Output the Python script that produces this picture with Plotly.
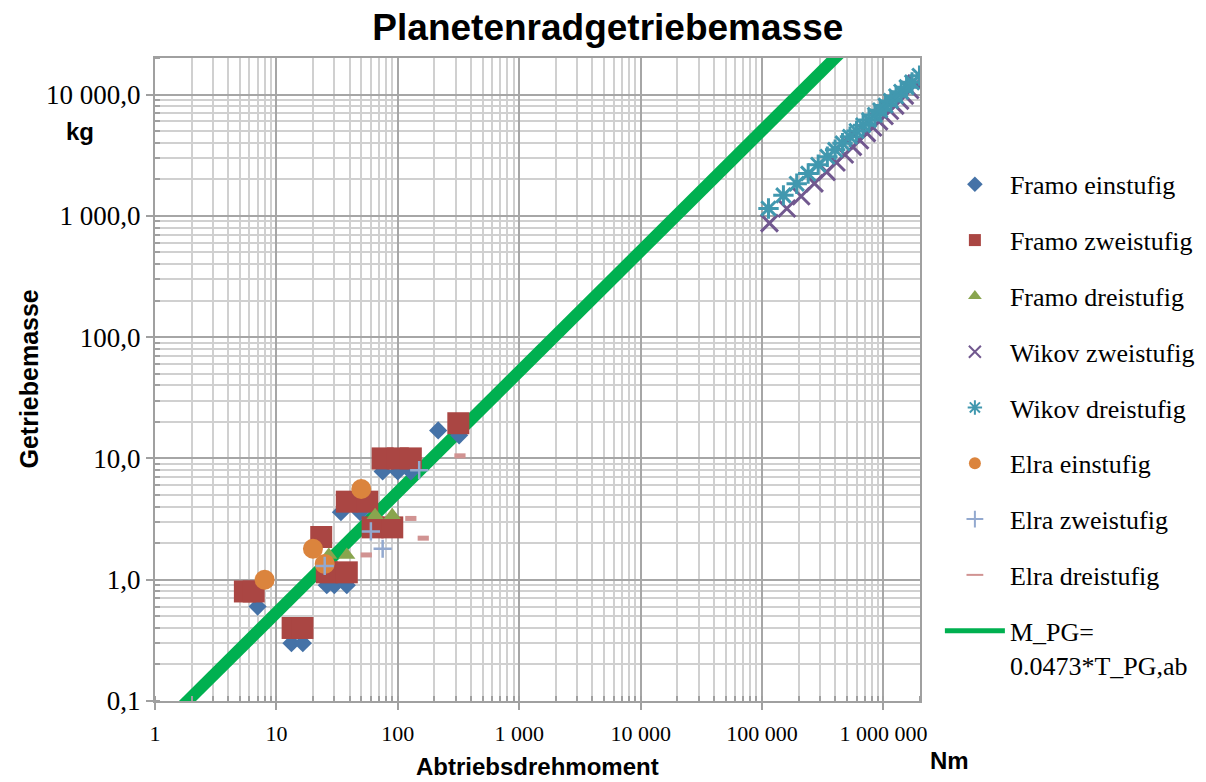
import plotly.graph_objects as go
import math

# ---------------- data ----------------
framo1_T = [7, 13.3, 16.5, 26, 30, 38, 34, 49, 75, 100, 128, 215, 320]
framo1_M = [0.6, 0.3, 0.3, 0.9, 0.9, 0.9, 3.6, 3.6, 7.8, 7.8, 7.8, 17, 15.5]

framo2_T = [5.5, 6.5, 13.6, 16.4, 23.4, 26, 38, 38, 56, 62, 90, 75, 100, 128, 315]
framo2_M = [0.8, 0.8, 0.4, 0.4, 2.25, 1.15, 1.15, 4.4, 4.4, 2.7, 2.7, 10, 10, 10, 19.5]

framo3_T = [27, 38, 65, 90]
framo3_M = [1.6, 1.6, 3.4, 3.4]

wikov2_T = [115000, 160000, 210000, 270000, 340000, 410000, 480000, 560000, 640000, 730000,
            820000, 920000, 1020000, 1130000, 1250000, 1370000, 1500000, 1660000, 1860000]
wikov2_M = [870, 1150, 1450, 1850, 2300, 2750, 3200, 3700, 4200, 4800,
            5350, 6000, 6650, 7350, 8100, 8900, 9800, 10900, 12300]

wikov3_T = [113000, 150000, 193000, 240000, 290000, 345000, 400000, 460000, 530000, 600000, 680000,
            760000, 850000, 940000, 1040000, 1150000, 1270000, 1400000, 1550000, 1720000, 1980000]
wikov3_M = [1150, 1475, 1840, 2230, 2640, 3070, 3500, 3960, 4480, 5000, 5580,
            6150, 6790, 7420, 8110, 8860, 9670, 10540, 11500, 12600, 14300]

elra1_T = [8, 20, 25, 50]
elra1_M = [1.0, 1.8, 1.35, 5.6]

elra2_T = [25, 60, 75, 150]
elra2_M = [1.3, 2.5, 1.8, 8.0]

elra3_T = [55, 128, 162, 325]
elra3_M = [1.6, 3.2, 2.2, 10.5]

trend_T = [1.2, 560000]
trend_M = [0.065, 28000]

series_names = ["Framo einstufig", "Framo zweistufig", "Framo dreistufig",
                "Wikov zweistufig", "Wikov dreistufig", "Elra einstufig",
                "Elra zweistufig", "Elra dreistufig"]
trend_name = "M_PG=<br>0.0473*T_PG,ab"

x_tickvals = [1, 10, 100, 1000, 10000, 100000, 1000000]
x_ticktext = ["1", "10", "100", "1 000", "10 000", "100 000", "1 000 000"]
y_tickvals = [0.1, 1, 10, 100, 1000, 10000]
y_ticktext = ["0,1", "1,0", "10,0", "100,0", "1 000,0", "10 000,0"]

# ---------------- figure ----------------
serif = "Liberation Serif, Times New Roman, serif"
sans = "Liberation Sans, Arial, sans-serif"

fig = go.Figure()

fig.add_trace(go.Scatter(x=trend_T, y=trend_M, mode="lines", name=trend_name,
                         line=dict(color="#00B050", width=12),
                         legendgroup="g9", legendrank=9))

styles = [
    (framo1_T, framo1_M, dict(symbol="diamond", size=14, color="#4572A7")),
    (framo2_T, framo2_M, dict(symbol="square", size=22, color="#AA4643")),
    (framo3_T, framo3_M, dict(symbol="triangle-up", size=15, color="#89A54E")),
    (wikov2_T, wikov2_M, dict(symbol="x-thin-open", size=17, color="#71588F",
                               line=dict(width=3, color="#71588F"))),
    (wikov3_T, wikov3_M, dict(symbol="asterisk-open", size=17, color="#4198AF",
                               line=dict(width=3, color="#4198AF"))),
    (elra1_T, elra1_M, dict(symbol="circle", size=20, color="#DB843D")),
    (elra2_T, elra2_M, dict(symbol="cross-thin-open", size=13, color="#93A9CF",
                             line=dict(width=2.5, color="#93A9CF"))),
    (elra3_T, elra3_M, dict(symbol="line-ew-open", size=8, color="#D19392",
                             line=dict(width=5, color="#D19392"))),
]
for i, ((tx, my, mk), nm) in enumerate(zip(styles, series_names)):
    fig.add_trace(go.Scatter(x=tx, y=my, mode="markers", name=nm, marker=mk,
                             legendgroup="g%d" % i, legendrank=i + 1))

grid_major = "#A6A6A6"
grid_minor = "#D0D0D0"
axis_line = "#A0A0A0"

fig.update_xaxes(type="log", range=[0, math.log10(2e6)],
                 tickvals=x_tickvals, ticktext=x_ticktext,
                 tickfont=dict(family=serif, size=22, color="#000"),
                 ticklabelstandoff=5,
                 showgrid=True, gridcolor=grid_major, gridwidth=2,
                 showline=True, linecolor=axis_line, linewidth=2, mirror=True,
                 ticks="outside", ticklen=7, tickcolor=axis_line, tickwidth=1.5,
                 minor=dict(showgrid=True, gridcolor=grid_minor, gridwidth=2,
                            dtick="D1", ticks="inside", ticklen=5, tickcolor=axis_line),
                 zeroline=False, automargin=False)
fig.update_yaxes(type="log", range=[-1, math.log10(20000)],
                 tickvals=y_tickvals, ticktext=y_ticktext,
                 tickfont=dict(family=serif, size=27, color="#000"),
                 showgrid=True, gridcolor=grid_major, gridwidth=2,
                 showline=True, linecolor=axis_line, linewidth=2, mirror=True,
                 ticks="outside", ticklen=7, tickcolor=axis_line, tickwidth=1.5,
                 minor=dict(showgrid=True, gridcolor=grid_minor, gridwidth=2,
                            dtick="D1", ticks="inside", ticklen=5, tickcolor=axis_line),
                 zeroline=False, automargin=False)

fig.update_layout(
    width=1206, height=782,
    margin=dict(l=155, r=286, t=58, b=81, autoexpand=False),
    paper_bgcolor="white", plot_bgcolor="white",
    title=dict(text="<b>Planetenradgetriebemasse</b>", x=0.504, xanchor="center",
               y=0.966, yanchor="middle",
               font=dict(family=sans, size=37, color="#000")),
    legend=dict(x=1.026, xanchor="left", y=0.84, yanchor="top",
                font=dict(family=serif, size=26, color="#000"),
                tracegroupgap=19, itemsizing="constant", itemwidth=60,
                valign="top", bgcolor="rgba(0,0,0,0)"),
    showlegend=True,
    annotations=[
        dict(text="<b>Getriebemasse</b>", xref="paper", yref="paper", x=-0.166, y=0.5,
             xanchor="center", yanchor="middle",
             textangle=-90, showarrow=False, font=dict(family=sans, size=25, color="#000")),
        dict(text="<b>Abtriebsdrehmoment</b>", xref="paper", yref="paper", x=0.5, y=-0.102,
             xanchor="center", yanchor="middle",
             showarrow=False, font=dict(family=sans, size=24, color="#000")),
        dict(text="<b>kg</b>", xref="paper", yref="paper", x=-0.098, y=0.885,
             xanchor="center", yanchor="middle",
             showarrow=False, font=dict(family=sans, size=24, color="#000")),
        dict(text="<b>Nm</b>", xref="paper", yref="paper", x=1.039, y=-0.092,
             xanchor="center", yanchor="middle",
             showarrow=False, font=dict(family=sans, size=24, color="#000")),
    ],
)

fig.write_html("out.html")
